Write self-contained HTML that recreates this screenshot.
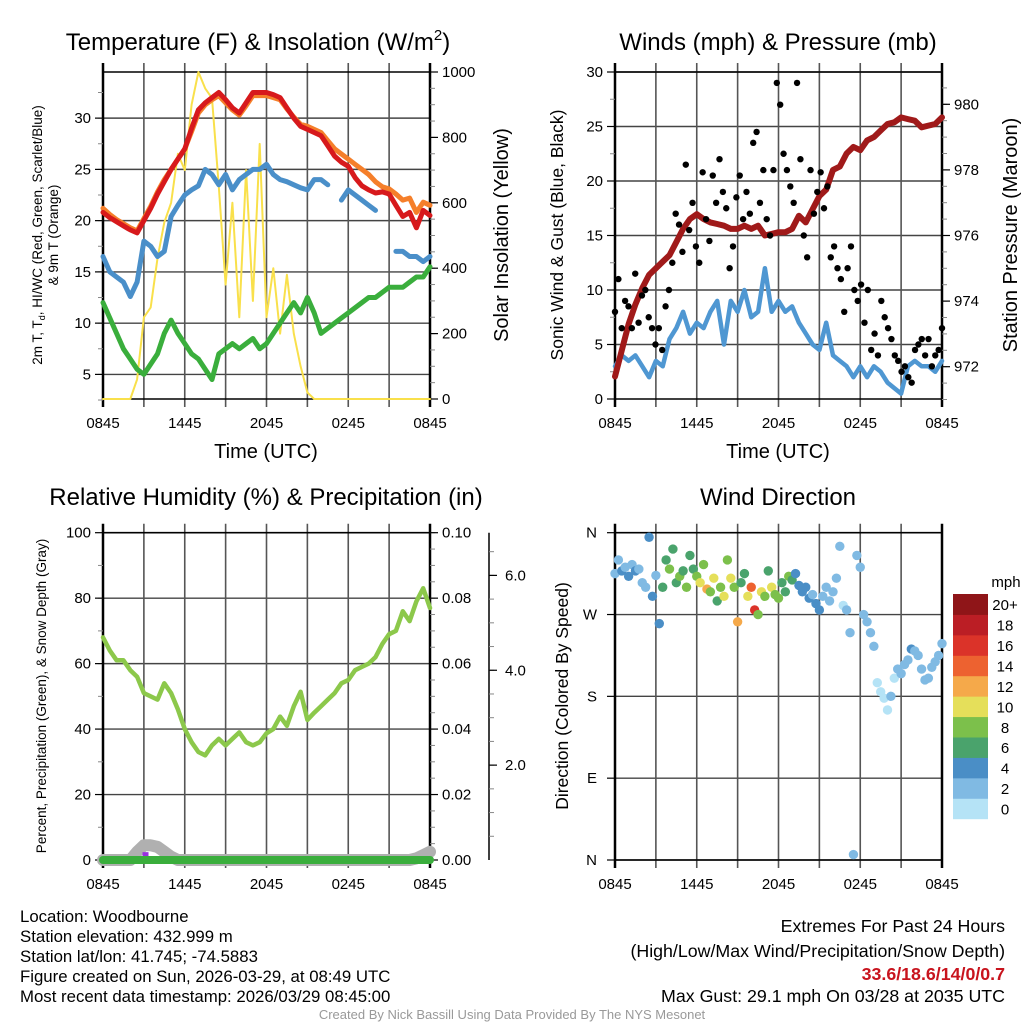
<!DOCTYPE html>
<html><head><meta charset="utf-8"><style>
html,body{margin:0;padding:0;background:#fff;}
svg{display:block;font-family:"Liberation Sans",sans-serif;}
</style></head><body>
<svg id="c" width="1024" height="1024" viewBox="0 0 1024 1024" xmlns="http://www.w3.org/2000/svg"></svg>
<script>
// ---- DATA (30-min steps over 24h, 0845 -> 0845) ----
const timeLabels = ["0845","1445","2045","0245","0845"];
const tempRed = [20.8,20.3,19.9,19.5,19.1,18.8,20,21.2,22.6,23.8,25,26,27,29,30.8,31.5,32,32.5,31.8,31,30.5,31.5,32.5,32.5,32.5,32.3,32,31,30,29.2,28.9,28.6,28.3,27.3,26.3,25.7,25.3,24.2,23.4,23,22.7,22.8,22.6,21.5,20.4,20.8,19.3,21,20.5];
const tempOrange = [21.2,20.6,20.1,19.7,19.3,19,20.2,21.4,22.8,24,25,26,27,28.7,30.5,31.3,31.8,32.2,31.5,30.8,30.3,31.2,32.2,32.2,32.2,32,31.8,30.9,30.1,29.4,29.2,28.9,28.6,27.8,27,26.5,26,25.5,25,24.5,23.8,23.3,23.1,22.6,22,22.2,20.8,21.8,21.5];
const tempBlue = [16.5,15,14.5,14,12.6,14,18,17.5,16.5,17,20.4,21.5,22.5,23,23.4,25,24.5,23.5,24.5,23,24,24.5,25,25,25.5,24.5,24,23.8,23.5,23.2,23,24,24,23.5,null,22,23,22.5,22,21.5,21,null,null,17,17,16.5,16.5,16,16.5];
const tempGreen = [12,10.5,9,7.5,6.5,5.5,5,6,7,9,10.3,9,8,7,6.5,5.5,4.5,7,7.5,8,7.5,8,8.5,7.5,8,9,10,11,12,11,12.5,11,9,9.5,10,10.5,11,11.5,12,12.5,12.5,13,13.5,13.5,13.5,14,14.5,14.5,15.5];
const solar = [0,0,0,0,0,60,250,280,430,540,600,750,700,900,1000,950,920,650,350,600,250,700,300,780,250,400,200,380,200,100,20,0,0,0,0,0,0,0,0,0,0,0,0,0,0,0,0,0,0];
const windSpeed = [3,4,3.5,4,3,2,3.5,3,5.5,6.5,8,6,7,6.5,8,9,5,9,8,10,7.5,8,12,8,9,8,8.5,7,6,5,4.5,7,4,3.5,3,2,3,2,3,2.5,1.5,1,0.5,3,3.5,3,3,2.5,3.5];
const pressure = [971.7,972.5,973.3,973.9,974.4,974.8,975,975.2,975.4,975.8,976.2,976.5,976.65,976.5,976.4,976.35,976.3,976.2,976.2,976.3,976.2,976.3,976.0,976.05,976.1,976.1,976.2,976.6,976.4,976.8,977.2,977.4,978.0,978.1,978.5,978.7,978.6,978.9,979.0,979.2,979.4,979.45,979.6,979.55,979.5,979.3,979.35,979.4,979.6];
// 15-min gusts
const gust = [8,11,6.5,9,8.5,6.5,11.5,7,9.5,10,7.5,6.5,5,6.5,4.5,8.5,10,12.5,17,16,13.5,21.5,15.5,18,14,12.5,20.8,16.5,14.5,20.5,18,22,19,17.5,12,14,18.5,20.5,16.5,19,17,23.5,24.5,18,21,16.5,15,21,29,27,22.5,21,19.5,18,29,22,15,13,21,17,19,20.8,17.5,19.5,13,14,12,11,8,12,14,10,9,10.5,7,10,4.5,6,4,9,7.5,6.5,5.5,4,3.5,2.5,3,2,1.5,4.5,5,5.5,4,5.5,3,4,4.5,6.5];
const rh = [68,64,61,61,58,56,51,50,49,54,51,46,40,36,33,32,35,37,35,37,39,36,35,36,38.7,40,43.8,41,47,51.4,42.8,45,47,49,51,54,55,58,59,60,62,66,69,70,76,73,79,83,77];
const snowDepth = [0,0,0,0,0,2.5,4.5,4.5,4,2.5,1,0,0,0,0,0,0,0,0,0,0,0,0,0,0,0,0,0,0,0,0,0,0,0,0,0,0,0,0,0,0,0,0,0,0,0,0.5,1.5,2.5];
const precip = [0,0,0,0,0,0,0,0,0,0,0,0,0,0,0,0,0,0,0,0,0,0,0,0,0,0,0,0,0,0,0,0,0,0,0,0,0,0,0,0,0,0,0,0,0,0,0,0,0];
// 15-min wind direction (deg) and speed (mph)
const windDir = [315,330,318,322,312,325,318,320,305,300,355,290,313,260,300,330,320,342,305,312,318,300,335,320,312,305,325,298,295,310,285,300,290,330,310,300,262,305,315,290,300,275,270,295,290,318,300,292,288,305,295,312,308,315,302,295,300,288,292,282,275,290,300,285,295,310,345,280,275,250,6,335,322,270,262,250,235,195,185,178,165,180,200,210,205,215,220,232,230,225,210,198,200,212,218,225,238];
const dirSpeed = [3.5,3,4,3.5,4,3.5,4,2.5,2,3,4,4.5,3,4.5,7,7.5,8,7,6,8.5,7,9,6.5,7,8,10,8,13,9,10.5,7,8.5,11,9,10,8,13,6,7,11,14,16,9,11,8,7.5,10,8,9,6,7,8,6,5,4,5.5,4,4,3,5,4.5,3,2.5,3,3,2,2.5,1,2.5,2,2,2,2,2.5,3,3.5,2,1,1,0.5,1,2,1.5,2.5,3,3,2.5,4,2.5,2,3,2.5,3,2,2.5,3,3.5];
const cbColors = ["#b5e3f6","#80bae3","#4a8ec6","#4aa36c","#7cc04b","#e5df5a","#f5a94a","#ed6230","#db3329","#bb1e25","#8f1518"];
const cbLabels = ["0","2","4","6","8","10","12","14","16","18","20+"];

const svg = document.getElementById('c');
const NS = "http://www.w3.org/2000/svg";
function el(tag, attrs, parent){const e=document.createElementNS(NS,tag);for(const k in attrs)e.setAttribute(k,attrs[k]);(parent||svg).appendChild(e);return e;}
function txt(s, attrs, parent){const e=el('text',attrs,parent);e.textContent=s;return e;}

const L=[103,430], R=[615,942], T1=[72,399], T2=[532.7,860];
function xs(px){return h=>px[0]+h/24*(px[1]-px[0]);}
function ys(top,bot,vmin,vmax){return v=>bot-(v-vmin)/(vmax-vmin)*(bot-top);}

function frame(px,py,name){
  const g=el('g',{});
  
  
  const x=xs(px);
  for(let h=0;h<=24;h+=3){
    const X=x(h);
    el('line',{x1:X,y1:py[0]-9,x2:X,y2:py[1]+8,stroke:(h%24==0)?'#000':'#555','stroke-width':(h%24==0)?2.5:1.6},g);
  }
  el('line',{x1:px[0],y1:py[0],x2:px[1],y2:py[0],stroke:'#000','stroke-width':1.6},g);
  el('line',{x1:px[0],y1:py[1],x2:px[1],y2:py[1],stroke:'#000','stroke-width':1.6},g);
  timeLabels.forEach((t,i)=>{
    const tl=txt(t,{x:x(i*6),y:py[1]+29,'font-size':15,'text-anchor':'middle',fill:'#000'},g);
    
    
  });
  return x;
}
function hgrid(px,y,vals,color){
  vals.forEach(v=>el('line',{x1:px[0],y1:y(v),x2:px[1],y2:y(v),stroke:color||'#444','stroke-width':1.4}));
}
function leftTicks(px,y,major,minor,fmt){
  minor.forEach(v=>el('line',{x1:px[0]-5,y1:y(v),x2:px[0],y2:y(v),stroke:'#888','stroke-width':1}));
  major.forEach(v=>{el('line',{x1:px[0]-8,y1:y(v),x2:px[0],y2:y(v),stroke:'#000','stroke-width':1.2});
    const t=txt(fmt(v),{x:px[0]-12,y:y(v)+5,'font-size':15,'text-anchor':'end'});
    });
}
function rightTicks(X,y,major,minor,fmt,off){
  minor.forEach(v=>el('line',{x1:X,y1:y(v),x2:X+5,y2:y(v),stroke:'#888','stroke-width':1}));
  major.forEach(v=>{el('line',{x1:X,y1:y(v),x2:X+8,y2:y(v),stroke:'#000','stroke-width':1.2});
    const t=txt(fmt(v),{x:X+(off||12),y:y(v)+5,'font-size':15,'text-anchor':'start'});
    });
}
function range(a,b,s){const r=[];for(let v=a;v<=b+1e-9;v+=s)r.push(+v.toFixed(4));return r;}
function line(arr,x,y,step,color,w,name){
  let d='',pen=false;
  arr.forEach((v,i)=>{ if(v===null){pen=false;return;} d+=(pen?'L':'M')+x(i*step).toFixed(1)+','+y(v).toFixed(1)+' '; pen=true;});
  const p=el('path',{d:d,fill:'none',stroke:color,'stroke-width':w,'stroke-linejoin':'round','stroke-linecap':'round'});
  
  
  return p;
}
function title(s,cx,yy,name){const t=txt(s,{x:cx,y:yy,'font-size':24,'text-anchor':'middle'});return t;}
function vlabel(s,cx,cy,size,name){const t=txt(s,{x:0,y:0,'font-size':size,'text-anchor':'middle',transform:`translate(${cx},${cy}) rotate(-90)`});return t;}

// ===== Panel 1 =====
{
  const yT=ys(T1[0],T1[1],2.6,34.5);
  const yS=ys(T1[0],T1[1],0,1000);
  hgrid(L,yT,[5,10,15,20,25,30],'#444');
  const x=frame(L,T1,'temperature');
  leftTicks(L,yT,[5,10,15,20,25,30],range(2.5,32.5,2.5),v=>String(v));
  rightTicks(L[1],yS,[0,200,400,600,800,1000],range(0,1000,50),v=>String(v));
  line(solar,x,yS,0.5,'#f9e04b',2,'solar-insolation-line');
  line(tempOrange,x,yT,0.5,'#f57f2a',5,'9m-temperature-line');
  line(tempRed,x,yT,0.5,'#d7191c',5,'2m-temperature-line');
  line(tempBlue,x,yT,0.5,'#4a8fc9',5,'heat-index-windchill-line');
  line(tempGreen,x,yT,0.5,'#3aae3c',5,'dewpoint-line');
  const t=title('Temperature (F) & Insolation (W/m',258,50,'temperature-title');
  const sp=document.createElementNS(NS,'tspan');sp.setAttribute('font-size','15');sp.setAttribute('dy','-10');sp.textContent='2';t.appendChild(sp);
  const sp2=document.createElementNS(NS,'tspan');sp2.setAttribute('dy','10');sp2.textContent=')';t.appendChild(sp2);
  const yl=txt('',{x:0,y:0,'font-size':13.5,'text-anchor':'middle',transform:'translate(42,235) rotate(-90)'});
  
  yl.innerHTML='2m T, T<tspan font-size="9" dy="3">d</tspan><tspan dy="-3">, HI/WC (Red, Green, Scarlet/Blue)</tspan>';
  vlabel('& 9m T (Orange)',58,235,13.5,'temperature-y-axis-title-line2');
  vlabel('Solar Insolation (Yellow)',508,235,20,'solar-y-axis-title');
  const xt=txt('Time (UTC)',{x:266,y:458,'font-size':20,'text-anchor':'middle'});
}
// ===== Panel 2 =====
{
  const yW=ys(T1[0],T1[1],0,30);
  const yP=ys(104.3,366.7,972,980);
  hgrid(R,yW,[5,10,15,20,25,30],'#444');
  const x=frame(R,T1,'wind');
  leftTicks(R,yW,[0,5,10,15,20,25,30],range(2.5,27.5,2.5),v=>String(v));
  rightTicks(R[1],yP,[972,974,976,978,980],range(971,980.5,0.5),v=>String(v));
  line(windSpeed,x,yW,0.5,'#4f97d2',4.5,'wind-speed-line');
  line(pressure,x,yP,0.5,'#a01a1a',6,'pressure-line');
  gust.forEach((g,i)=>{
    const c=el('circle',{cx:x(i*24/(gust.length-1)),cy:yW(g),r:3.2,fill:'#000'});
    
    
  });
  title('Winds (mph) & Pressure (mb)',778,50,'wind-title');
  vlabel('Sonic Wind & Gust (Blue, Black)',563,235,17.5,'wind-y-axis-title');
  vlabel('Station Pressure (Maroon)',1017,235,20,'pressure-y-axis-title');
  const xt=txt('Time (UTC)',{x:778,y:458,'font-size':20,'text-anchor':'middle'});
}
// ===== Panel 3 =====
{
  const yR=ys(T2[0],T2[1],0,100);
  const yPr=ys(T2[0],T2[1],0,0.1);
  const ySn=ys(T2[0],T2[1],0,6.9);
  hgrid(L,yR,[20,40,60,80,100],'#444');
  const x=frame(L,T2,'humidity');
  leftTicks(L,yR,[0,20,40,60,80,100],range(10,90,10),v=>String(v));
  rightTicks(L[1],yPr,[0,0.02,0.04,0.06,0.08,0.1],range(0,0.1,0.005),v=>v.toFixed(2));
  el('line',{x1:489,y1:T2[0],x2:489,y2:T2[1],stroke:'#000','stroke-width':1.5});
  rightTicks(489,ySn,[2,4,6],range(0.5,6.5,0.5),v=>v.toFixed(1),16);
  line(snowDepth,x,yR,0.5,'#b0b0b0',12,'snow-depth-line');
  const pr=el('rect',{x:x(2.9),y:yR(2.4),width:6,height:5,fill:'#9b30e0'});
  
  line(precip,x,yR,0.5,'#3aae3c',8,'precipitation-line');
  line(rh,x,yR,0.5,'#8cc84b',4.5,'relative-humidity-line');
  title('Relative Humidity (%) & Precipitation (in)',266,505,'humidity-title');
  vlabel('Percent, Precipitation (Green), & Snow Depth (Gray)',46,696,13.5,'humidity-y-axis-title');
}
// ===== Panel 4 =====
{
  const yD=ys(T2[0],T2[1],0,360);
  hgrid(R,yD,[0,90,180,270,360],'#444');
  const x=frame(R,T2,'wind-direction');
  const dl=['N','E','S','W','N'];
  [0,90,180,270,360].forEach((v,i)=>{el('line',{x1:R[0]-8,y1:yD(v),x2:R[0],y2:yD(v),stroke:'#000','stroke-width':1.2});
    const t=txt(dl[i],{x:R[0]-18,y:yD(v)+5,'font-size':15,'text-anchor':'end'});});
  windDir.forEach((d,i)=>{
    const b=Math.min(10,Math.floor(dirSpeed[i]/2));
    const c=el('circle',{cx:x(i*24/(windDir.length-1)),cy:yD(d),r:4.7,fill:cbColors[b]});
    
    
  });
  title('Wind Direction',778,505,'wind-direction-title');
  vlabel('Direction (Colored By Speed)',568,696,17.5,'direction-y-axis-title');
  const cbTop=594,cbH=224.7/11;
  for(let k=0;k<11;k++){
    const yy=cbTop+(10-k)*cbH;
    const r=el('rect',{x:953,y:yy,width:35,height:cbH+0.5,fill:cbColors[k]});
    
    const t=txt(cbLabels[k],{x:1005,y:yy+cbH/2+6,'font-size':15,'text-anchor':'middle'});
    
  }
  const m=txt('mph',{x:1006,y:587,'font-size':15,'text-anchor':'middle'});
}
// ===== Footer =====
{
  const lines=['Location: Woodbourne','Station elevation: 432.999 m','Station lat/lon: 41.745; -74.5883','Figure created on Sun, 2026-03-29, at 08:49 UTC','Most recent data timestamp: 2026/03/29 08:45:00'];
  lines.forEach((s,i)=>{const t=txt(s,{x:20,y:922+i*20,'font-size':16.8});});
  const r=[['Extremes For Past 24 Hours','#000',''],['(High/Low/Max Wind/Precipitation/Snow Depth)','#000',''],['33.6/18.6/14/0/0.7','#c8141e','bold'],['Max Gust: 29.1 mph On 03/28 at 2035 UTC','#000','']];
  const ry=[932,957,980,1002];
  r.forEach((a,i)=>{const t=txt(a[0],{x:1005,y:ry[i],'font-size':17.8,'text-anchor':'end',fill:a[1],'font-weight':a[2]||'normal'});});
  const c=txt('Created By Nick Bassill Using Data Provided By The NYS Mesonet',{x:512,y:1019,'font-size':13,'text-anchor':'middle',fill:'#999'});
  
}
</script>
</body></html>
